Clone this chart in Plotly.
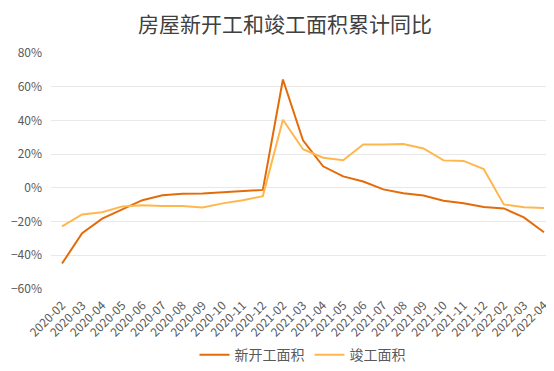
import plotly.graph_objects as go

months = ["2020-02","2020-03","2020-04","2020-05","2020-06","2020-07","2020-08","2020-09",
          "2020-10","2020-11","2020-12","2021-02","2021-03","2021-04","2021-05","2021-06",
          "2021-07","2021-08","2021-09","2021-10","2021-11","2021-12","2022-02","2022-03","2022-04"]
new_start = [-44.9, -26.9, -18.3, -12.7, -7.3, -4.4, -3.5, -3.4, -2.6, -2.0, -1.2, 64.3,
             28.2, 12.8, 6.8, 3.8, -0.9, -3.2, -4.5, -7.7, -9.1, -11.4, -12.2, -17.5, -26.3]
completed = [-22.9, -15.8, -14.5, -11.0, -10.3, -10.8, -10.8, -11.6, -9.2, -7.3, -4.9, 40.4,
             22.9, 17.9, 16.4, 25.7, 25.7, 26.0, 23.4, 16.3, 16.0, 11.2, -9.8, -11.5, -11.9]
y_ticks = [-60, -40, -20, 0, 20, 40, 60, 80]
y_tick_text = ["−60%", "−40%", "−20%", "0%", "20%", "40%", "60%", "80%"]

fig = go.Figure()
fig.add_trace(go.Scatter(x=months, y=new_start, mode="lines", name="新开工面积",
                         line=dict(color="#E36C0A", width=2)))
fig.add_trace(go.Scatter(x=months, y=completed, mode="lines", name="竣工面积",
                         line=dict(color="#FFB74D", width=2)))

font_family = "Noto Sans CJK SC, Noto Sans, sans-serif"
fig.update_layout(
    width=554, height=371,
    margin=dict(l=43, r=8, t=45, b=82),
    paper_bgcolor="white", plot_bgcolor="white",
    font=dict(family=font_family, color="#595959", size=12),
    title=dict(text="房屋新开工和竣工面积累计同比", x=0.5, xanchor="center", y=0.955, yanchor="middle",
               font=dict(size=21, color="#404040", family=font_family)),
    showlegend=True,
    legend=dict(orientation="h", x=0.5, xanchor="center", y=-0.28, yanchor="middle",
                font=dict(size=14, color="#595959"), itemwidth=30, tracegroupgap=0),
    xaxis=dict(type="category", tickangle=-45, showgrid=False, showline=False, ticks="",
               tickfont=dict(size=12, color="#595959"), range=[-0.55, 24.5],
               ticklabelstandoff=6, automargin=False),
    yaxis=dict(range=[-60, 80], tickmode="array", tickvals=y_ticks, ticktext=y_tick_text,
               showgrid=True, gridcolor="#E8E8E8", gridwidth=1.3, zeroline=False, showline=False,
               tickfont=dict(size=12, color="#595959"), ticklabelstandoff=8, automargin=False),
)
fig.write_html("out.html")
